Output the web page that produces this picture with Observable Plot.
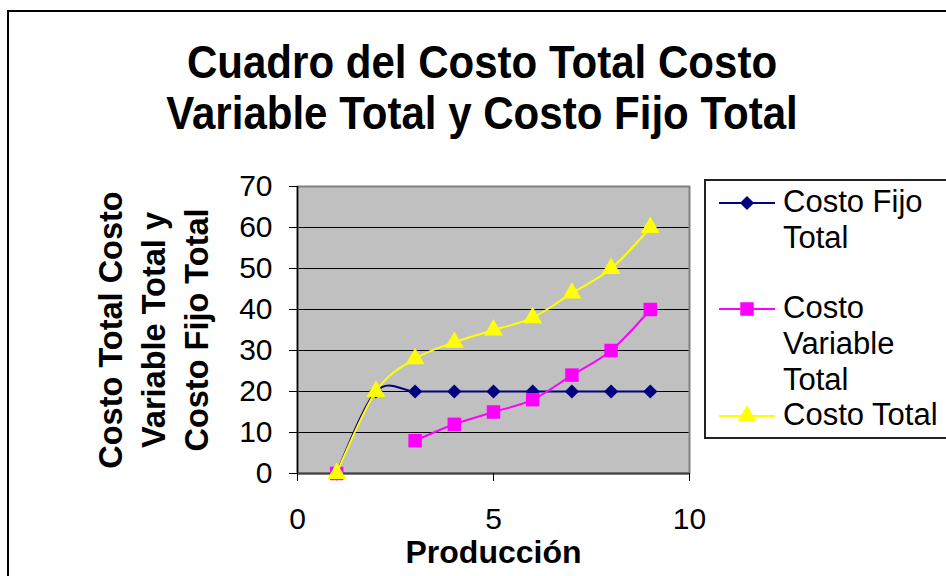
<!DOCTYPE html>
<html>
<head>
<meta charset="utf-8">
<script src="https://cdn.jsdelivr.net/npm/d3@7"></script>
<script src="https://cdn.jsdelivr.net/npm/@observablehq/plot@0.6"></script>
<style>
  html, body { margin: 0; padding: 0; background: #fff; }
  #wrap { position: relative; width: 946px; height: 576px; overflow: hidden; background: #fff;
          font-family: "Liberation Sans", Arial, sans-serif; color: #000; }
  #outer { position: absolute; left: 7px; top: 10px; width: 1000px; height: 700px;
           border-left: 2px solid #000; border-top: 2px solid #000; }
  #title { position: absolute; left: 0; top: 37px; width: 964px; text-align: center;
           font-weight: bold; font-size: 46px; line-height: 51px;
           transform: scaleX(0.914); transform-origin: 482px 0; }
  #chart { position: absolute; left: 0; top: 150px; }
  #legend { position: absolute; left: 704px; top: 179px; }
</style>
</head>
<body>
<div id="wrap">
  <div id="outer"></div>
  <div id="title"></div>
  <div id="chart"></div>
  <svg id="legend" width="242" height="262"></svg>
</div>
<script>
// ---- data ----
const titleLines = ["Cuadro del Costo Total Costo", "Variable Total y Costo Fijo Total"];
const yTitleLines = ["Costo Total Costo", "Variable Total y", "Costo Fijo Total"];
const xTitle = "Producción";
const produccion = [1, 2, 3, 4, 5, 6, 7, 8, 9];
const costoFijoTotal = [0, 20, 20, 20, 20, 20, 20, 20, 20];
const costoVariableTotal = [0, null, 8, 12, 15, 18, 24, 30, 40];
const costoTotal = [0, 20, 28, 32, 35, 38, 44, 50, 60];
const yTicks = [0, 10, 20, 30, 40, 50, 60, 70];
const xTicks = [0, 5, 10];
const gridValues = [10, 20, 30, 40, 50, 60];
const seriesNames = ["Costo Fijo Total", "Costo Variable Total", "Costo Total"];
const legendLines = [["Costo Fijo", "Total"], ["Costo", "Variable", "Total"], ["Costo Total"]];

// ---- styles ----
const styles = [
  {color: "#000080", symbol: "diamond2", r: 6.4},
  {color: "#FF00FF", symbol: "square", r: 7.6},
  {color: "#FFFF00", symbol: "triangle", r: 7}
];
const valuesBySeries = [costoFijoTotal, costoVariableTotal, costoTotal];

document.getElementById("title").innerHTML = titleLines.join("<br>");

const rowsFor = (vals) => produccion.map((x, i) => ({x, y: vals[i] == null ? NaN : vals[i]}));

const seriesMarks = valuesBySeries.flatMap((vals, k) => {
  const rows = rowsFor(vals);
  const s = styles[k];
  return [
    Plot.line(rows, {x: "x", y: "y", stroke: s.color, strokeWidth: 2, curve: "cardinal"}),
    Plot.dot(rows, {x: "x", y: "y", symbol: () => s.symbol, fill: s.color, stroke: "none", r: s.r})
  ];
});

const chart = Plot.plot({
  width: 946,
  height: 426,
  marginLeft: 297,
  marginRight: 257,
  marginTop: 36,
  marginBottom: 103,
  style: {fontFamily: "'Liberation Sans', Arial, sans-serif", color: "#000", background: "transparent", overflow: "visible"},
  x: {domain: [0, 10]},
  y: {domain: [0, 70]},
  symbol: {type: "identity"},
  marks: [
    Plot.frame({fill: "#C0C0C0", stroke: "none"}),
    Plot.ruleY(gridValues, {stroke: "#000", strokeWidth: 1}),
    Plot.frame({stroke: "#808080", strokeWidth: 2}),
    Plot.ruleX([0], {stroke: "#000", strokeWidth: 1.5}),
    Plot.ruleY([0], {stroke: "#404040", strokeWidth: 2}),
    Plot.axisY({ticks: yTicks, tickSize: 8, tickPadding: 17, fontSize: 30, label: null, stroke: "#000"}),
    Plot.axisX({ticks: xTicks, tickSize: 8, tickPadding: 26, fontSize: 30, label: null, stroke: "#000"}),
    ...seriesMarks,
    Plot.text([yTitleLines.join("\n")], {text: d => d, frameAnchor: "left", textAnchor: "middle", dx: -146, rotate: -90,
      fontSize: 32.5, fontWeight: "bold", lineHeight: 1.32}),
    Plot.text([xTitle], {text: d => d, frameAnchor: "bottom", dy: 89, fontSize: 32, fontWeight: "bold"})
  ]
});
document.getElementById("chart").appendChild(chart);

// ---- legend ----
const leg = d3.select("#legend");
leg.append("rect").attr("x", 1).attr("y", 1).attr("width", 400).attr("height", 258)
  .attr("fill", "#fff").attr("stroke", "#222").attr("stroke-width", 2);
const markerY = [24, 130, 237];
const firstBaseline = [33, 139, 246];
const symbolMap = {diamond2: d3.symbolDiamond2, square: d3.symbolSquare, triangle: d3.symbolTriangle};
seriesNames.forEach((name, k) => {
  const s = styles[k];
  const g = leg.append("g").attr("aria-label", name);
  g.append("line").attr("x1", 15).attr("x2", 71).attr("y1", markerY[k]).attr("y2", markerY[k])
    .attr("stroke", s.color).attr("stroke-width", 2);
  g.append("path").attr("transform", `translate(43,${markerY[k]})`)
    .attr("d", d3.symbol(symbolMap[s.symbol], Math.PI * s.r * s.r)())
    .attr("fill", s.color);
  const t = g.append("text").attr("x", 79).attr("y", firstBaseline[k])
    .attr("font-family", "'Liberation Sans', Arial, sans-serif").attr("font-size", 31).attr("fill", "#000");
  legendLines[k].forEach((ln, j) => {
    t.append("tspan").attr("x", 79).attr("y", firstBaseline[k] + j * 36).text(ln);
  });
});
</script>
</body>
</html>
